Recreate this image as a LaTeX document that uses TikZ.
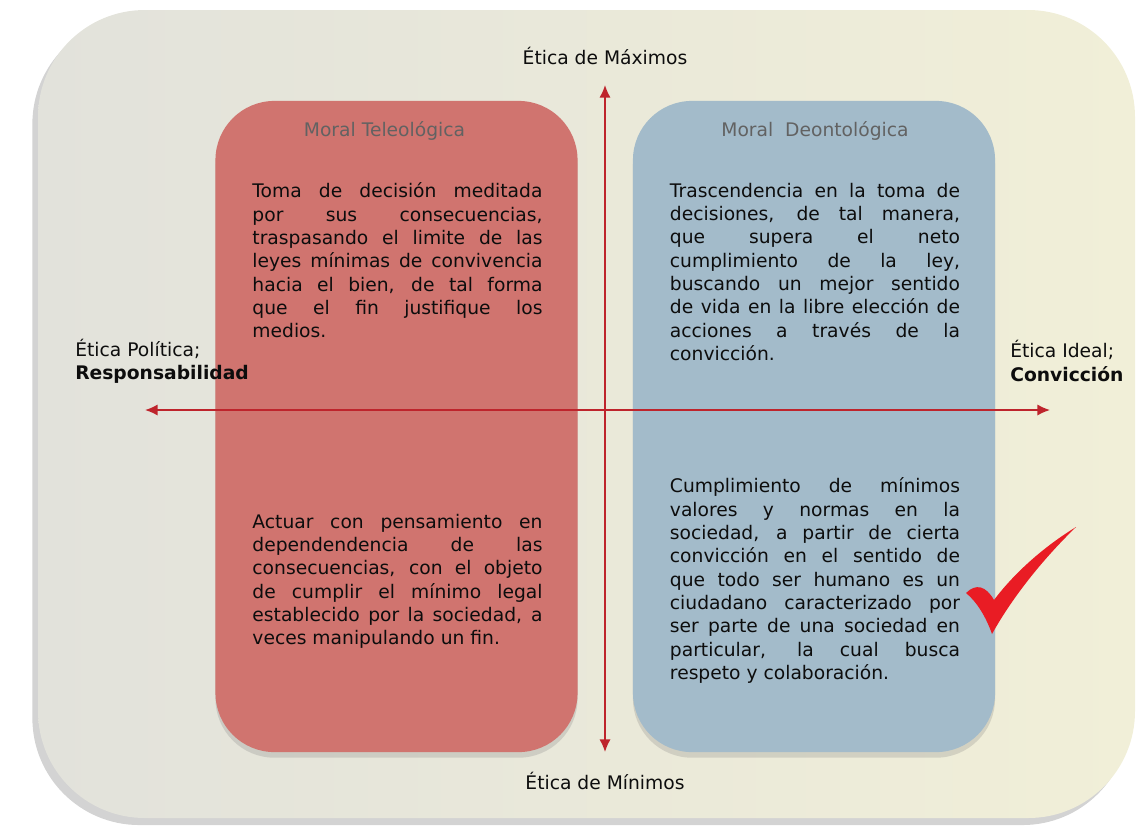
\documentclass[tikz,border=0pt]{standalone}
\usepackage{fontspec}
\setmainfont{DejaVu Sans}
\usepackage{tikz}
\usetikzlibrary{arrows.meta,positioning,shadows}
\definecolor{marcoizq}{RGB}{226,226,219}
\definecolor{marcoder}{RGB}{241,239,216}
\definecolor{rojo}{RGB}{208,116,111}
\definecolor{azul}{RGB}{163,187,202}
\definecolor{eje}{RGB}{190,36,44}
\definecolor{titulo}{RGB}{98,98,98}
\definecolor{visto}{RGB}{233,28,36}

\begin{document}
\begin{tikzpicture}[
		x=0.025cm, y=-0.025cm,
		>={Latex[length=9pt,width=8pt]},
		font=\fontsize{13.3}{16.6}\selectfont,
		moral/.style={
			rectangle,
			rounded corners=42pt,
			minimum width=9.05cm,
			minimum height=16.275cm,
			drop shadow={opacity=0.25, shadow xshift=0pt, shadow yshift=-4pt}
		},
		titlebox/.style={
			text=titulo,
			inner sep=0pt
		},
		body/.style={
			text width=7.25cm,
			align=justify,
			inner sep=0pt,
			anchor=north west,
			text=black!95
		},
		axis/.style={
			draw=eje,
			line width=1.1pt,
			<->
		},
		axislabel/.style={
			inner sep=0pt,
			align=left,
			text=black!95
		}
		]
		\useasboundingbox (0,0) rectangle (1139,838);
		
		% the frame
		\path [left color=marcoizq, right color=marcoder, rounded corners=76pt,
			drop shadow={opacity=0.35, shadow xshift=-4pt, shadow yshift=-5pt}]
			(38,10) rectangle (1135,818);
		
		% We start by placing the blocks
		\node [moral, fill=rojo] (teleo) at (396.5,426.5) {};
		\node [moral, fill=azul] (deonto) at (814,426.5) {};
		
		\node [titlebox] (teleotitle) at ([shift={(-12,30)}]teleo.north) {Moral Teleológica};
		\node [titlebox] (deontotitle) at ([shift={(1,30)}]deonto.north) {Moral\ \ Deontológica};
		
		\node [body] (teleotop) at ([shift={(37,82)}]teleo.north west)
		{%
			Toma de decisión meditada\linebreak
			por sus consecuencias,\linebreak
			traspasando el limite de las\linebreak
			leyes mínimas de convivencia\linebreak
			hacia el bien, de tal forma\linebreak
			que el fin justifique los\linebreak
			medios.
		};
		
		\node [body] (teleobottom) at ([shift={(37,413)}]teleo.north west)
		{%
			Actuar con pensamiento en\linebreak
			dependendencia de las\linebreak
			consecuencias, con el objeto\linebreak
			de cumplir el mínimo legal\linebreak
			establecido por la sociedad, a\linebreak
			veces manipulando un fin.
		};
		
		\node [body] (deontotop) at ([shift={(37,82)}]deonto.north west)
		{%
			Trascendencia en la toma de\linebreak
			decisiones, de tal manera,\linebreak
			que supera el neto\linebreak
			cumplimiento de la ley,\linebreak
			buscando un mejor sentido\linebreak
			de vida en la libre elección de\linebreak
			acciones a través de la\linebreak
			convicción.
		};
		
		\node [body] (deontobottom) at ([shift={(37,377)}]deonto.north west)
		{%
			Cumplimiento de mínimos\linebreak
			valores y normas en la\linebreak
			sociedad, a partir de cierta\linebreak
			convicción en el sentido de\linebreak
			que todo ser humano es un\linebreak
			ciudadano caracterizado por\linebreak
			ser parte de una sociedad en\linebreak
			particular, la cual busca\linebreak
			respeto y colaboración.
		};
		
		% the axes
		\coordinate (maximos) at (605,85);
		\coordinate (minimos) at (605,752);
		\coordinate (politica) at (145,410);
		\coordinate (ideal) at (1050,410);
		
		\draw [axis] (minimos) -- (maximos);
		\draw [axis] (politica) -- (ideal);
		
		\node [axislabel, above=14pt of maximos] (maxlabel) {Ética de Máximos};
		\node [axislabel, below=14pt of minimos] (minlabel) {Ética de Mínimos};
		\node [axislabel, anchor=west] (politlabel) at (75,361) {Ética Política;\\\textbf{Responsabilidad}};
		\node [axislabel, anchor=west] (ideallabel) at (1010,361) {Ética Ideal;\\\textbf{Convicción}};
		
		% the tick
		\fill [visto] (966,593) .. controls (976,583) and (986,586) .. (994,600)
			.. controls (1015,572) and (1045,546) .. (1076,527)
			.. controls (1042,560) and (1012,598) .. (992,634)
			.. controls (986,617) and (977,602) .. cycle;
		
		\end{tikzpicture}
\end{document}
